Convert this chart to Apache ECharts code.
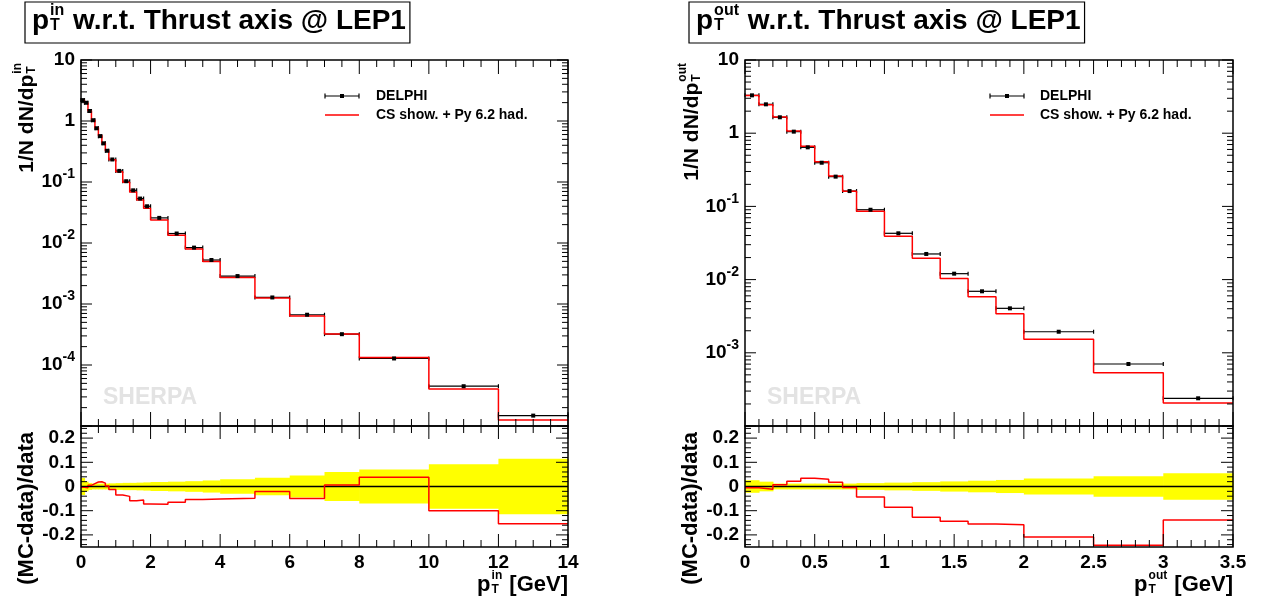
<!DOCTYPE html>
<html><head><meta charset="utf-8">
<script src="https://cdn.jsdelivr.net/npm/echarts@6/dist/echarts.min.js"></script>
<style>html,body{margin:0;padding:0;background:#fff}#c{width:1265px;height:602px}</style>
</head><body><div id="c"></div>
<script>
// ================= DATA =================
// p_T^in (left)
const inEdges = [0,0.1,0.2,0.3,0.4,0.5,0.6,0.7,0.8,1.0,1.2,1.4,1.6,1.8,2.0,2.5,3.0,3.5,4.0,5,6,7,8,10,12,14];
const inData  = [2.2,1.99,1.46,1.03,0.76,0.565,0.43,0.325,0.234,0.152,0.103,0.073,0.0535,0.040,0.0258,0.0143,0.0084,0.00526,0.00287,0.00128,6.67e-4,3.2e-4,1.28e-4,4.49e-5,1.48e-5];
const inMC    = [2.193,1.98,1.467,1.042,0.774,0.576,0.436,0.3257,0.2312,0.1467,0.0988,0.0687,0.0505,0.0371,0.0239,0.01337,0.00795,0.00499,0.00273,0.001253,6.34e-4,3.22e-4,1.329e-4,4.04e-5,1.252e-5];
const inRelErr= [0.035,0.02,0.014,0.012,0.012,0.012,0.012,0.012,0.013,0.014,0.015,0.015,0.016,0.017,0.0185,0.02,0.022,0.025,0.03,0.036,0.045,0.06,0.07,0.092,0.115];
// p_T^out (right)
const outEdges = [0,0.1,0.2,0.3,0.4,0.5,0.6,0.7,0.8,1.0,1.2,1.4,1.6,1.8,2.0,2.5,3.0,3.5];
const outData  = [3.29,2.48,1.65,1.05,0.641,0.395,0.255,0.162,0.090,0.0429,0.0224,0.01205,0.00692,0.00405,0.00194,7.03e-4,2.39e-4];
const outMC    = [3.274,2.453,1.662,1.073,0.663,0.407,0.2596,0.1614,0.0861,0.0392,0.01956,0.01032,0.00585,0.00341,0.001535,5.32e-4,2.06e-4];
const outRelErr= [0.026,0.02,0.012,0.012,0.012,0.012,0.012,0.012,0.014,0.016,0.018,0.021,0.024,0.027,0.033,0.042,0.055];
// tick labels
const inXTickLabels  = ['0','2','4','6','8','10','12','14'];
const outXTickLabels = ['0','0.5','1','1.5','2','2.5','3','3.5'];
const ratioTickLabels = ['-0.2','-0.1','0','0.1','0.2'];
// texts
const legendData = 'DELPHI';
const legendMC = 'CS show. + Py 6.2 had.';
const titleRest = ' w.r.t. Thrust axis @ LEP1';
const watermark = 'SHERPA';

// ================= HELPERS =================
const FF = "'Liberation Sans', Arial, Helvetica, sans-serif";
const mctx = document.createElement('canvas').getContext('2d');
function tw(t, s){ mctx.font = 'bold ' + s + 'px ' + FF; return mctx.measureText(t).width; }
function txt(x, y, t, s, fill, align){
  return {type:'text', x:x, y:y, silent:true, style:{text:t, fontSize:s, fontWeight:'bold', fontFamily:FF, fill:fill||'#000', align:align||'left', verticalAlign:'middle'}};
}
// composite text with stacked super/subscripts: segments [{t}, {sup, sub}]
function scriptText(segs, size, supOff, subOff, scale){
  let x = 0; const ch = []; const ss = Math.round(size*(scale||0.55));
  segs.forEach(s => {
    if (s.t !== undefined){ ch.push(txt(x, 0, s.t, size)); x += tw(s.t, size); }
    else {
      const w = Math.max(tw(s.sup, ss), tw(s.sub, ss));
      ch.push(txt(x+1, -size*supOff, s.sup, ss));
      ch.push(txt(x+1, size*subOff, s.sub, ss));
      x += w + 2;
    }
  });
  return {children: ch, width: x};
}
function steps(edges, vals){ const p=[]; vals.forEach((v,i)=>{ p.push([edges[i], v]); p.push([edges[i+1], v]); }); return p; }
function ratio(mc, d){ return mc.map((m,i)=> (m - d[i]) / d[i]); }
function linTicks(min, max, step, majStep){
  const out=[]; const n=Math.round((max-min)/step);
  for(let i=0;i<=n;i++){ const v=+(min+i*step).toFixed(6); const q=v/majStep; out.push([v, Math.abs(q-Math.round(q))<1e-6]); }
  return out;
}
function logTicks(lo, hi){
  const out=[]; for(let n=lo;n<hi;n++){ for(let k=1;k<=9;k++) out.push([k*Math.pow(10,n), k===1]); }
  out.push([Math.pow(10,hi), true]); return out;
}

const grids = [
  {left:81, top:60, width:487, height:366},
  {left:81, top:426, width:487, height:121},
  {left:745, top:60, width:488, height:366},
  {left:745, top:426, width:488, height:121}
];

const labelBase = {color:'#000', fontFamily:FF, fontWeight:'bold', fontSize:19};
function xAx(gi, max, interval, labels, show){
  return {type:'value', gridIndex:gi, min:0, max:max, interval:interval,
    axisLine:{show:false}, axisTick:{show:false}, splitLine:{show:false},
    axisLabel: Object.assign({show:show, margin:6, formatter: v => labels[Math.round(v/interval)] || ''}, labelBase)};
}
function logAx(gi, min, max){
  return {type:'log', logBase:10, gridIndex:gi, min:min, max:max,
    axisLine:{show:false}, axisTick:{show:false}, splitLine:{show:false}, minorTick:{show:false},
    axisLabel: Object.assign({margin:6, showMinLabel:false,
      formatter: v => { const e=Math.round(Math.log10(v)); if(e===1) return '10'; if(e===0) return '1'; if(Math.pow(10,e) < min*1.01) return ''; return '{m|10}{s|'+e+'}'; },
      rich:{ m:{fontSize:19, fontWeight:'bold', fontFamily:FF, color:'#000'},
             s:{fontSize:14, fontWeight:'bold', fontFamily:FF, color:'#000', padding:[0,0,15,0]} }
    }, labelBase)};
}
function ratAx(gi){
  return {type:'value', gridIndex:gi, min:-0.25, max:0.25,
    axisLine:{show:false}, axisTick:{show:false}, splitLine:{show:false},
    axisLabel: Object.assign({margin:6, showMinLabel:false, showMaxLabel:false,
      formatter: v => { const i=Math.round(v*10)+2; return (Math.abs(v*10-Math.round(v*10))<1e-6 && i>=0 && i<5) ? ratioTickLabels[i] : ''; }}, labelBase)};
}

function frameSeries(xi, xRef, yRef, xTicks, yTicks, lens){
  return {type:'custom', xAxisIndex:xi, yAxisIndex:xi, z:20, silent:true, clip:false, data:[[xRef, yRef]],
    renderItem: function(params, api){
      const cs = params.coordSys; const L=cs.x, T=cs.y, R=cs.x+cs.width, B=cs.y+cs.height;
      const st = {stroke:'#000', lineWidth:1};
      const ch = [{type:'rect', shape:{x:L, y:T, width:cs.width, height:cs.height}, style:{fill:'none', stroke:'#000', lineWidth:1.5}}];
      xTicks.forEach(t => { const x = api.coord([t[0], yRef])[0]; const l = t[1]?lens[0]:lens[1];
        ch.push({type:'line', shape:{x1:x, y1:B, x2:x, y2:B-l}, style:st});
        ch.push({type:'line', shape:{x1:x, y1:T, x2:x, y2:T+l}, style:st}); });
      yTicks.forEach(t => { const y = api.coord([xRef, t[0]])[1]; const l = t[1]?lens[2]:lens[3];
        ch.push({type:'line', shape:{x1:L, y1:y, x2:L+l, y2:y}, style:st});
        ch.push({type:'line', shape:{x1:R, y1:y, x2:R-l, y2:y}, style:st}); });
      return {type:'group', children:ch};
    }};
}
function mcLine(idx, pts){
  return {type:'line', xAxisIndex:idx, yAxisIndex:idx, data:pts, symbol:'none', showSymbol:false, z:5,
    lineStyle:{color:'#ff0000', width:1.5}, silent:true, clip:true};
}
function dataSeries(idx, edges, vals){
  return {type:'custom', xAxisIndex:idx, yAxisIndex:idx, z:4, silent:true, encode:{x:[0,1], y:2},
    data: vals.map((v,i)=>[edges[i], edges[i+1], v]),
    renderItem: function(params, api){
      const a = api.coord([api.value(0), api.value(2)]), b = api.coord([api.value(1), api.value(2)]);
      const st = {stroke:'#000', lineWidth:1.2};
      return {type:'group', children:[
        {type:'line', shape:{x1:a[0], y1:a[1], x2:b[0], y2:b[1]}, style:st},
        {type:'line', shape:{x1:a[0], y1:a[1]-2, x2:a[0], y2:a[1]+2}, style:st},
        {type:'line', shape:{x1:b[0], y1:b[1]-2, x2:b[0], y2:b[1]+2}, style:st}
      ]};
    }};
}
function markerSeries(idx, edges, vals){
  return {type:'custom', xAxisIndex:idx, yAxisIndex:idx, z:7, silent:true, encode:{x:[0,1], y:2},
    data: vals.map((v,i)=>[edges[i], edges[i+1], v]),
    renderItem: function(params, api){
      const c = api.coord([(api.value(0)+api.value(1))/2, api.value(2)]);
      return {type:'rect', shape:{x:c[0]-2, y:c[1]-2, width:4, height:4}, style:{fill:'#000'}};
    }};
}
function bandSeries(idx, edges, errs){
  return {type:'custom', xAxisIndex:idx, yAxisIndex:idx, z:1, silent:true, encode:{x:[0,1], y:2},
    data: errs.map((e,i)=>[edges[i], edges[i+1], e]),
    renderItem: function(params, api){
      const p1 = api.coord([api.value(0), api.value(2)]), p2 = api.coord([api.value(1), -api.value(2)]);
      return {type:'rect', shape:{x:p1[0], y:p1[1], width:p2[0]-p1[0]+0.6, height:p2[1]-p1[1]}, style:{fill:'#ffff00'}};
    }};
}
function zeroLine(idx, max){
  return {type:'line', xAxisIndex:idx, yAxisIndex:idx, data:[[0,0],[max,0]], symbol:'none', z:3, silent:true,
    lineStyle:{color:'#000', width:1.5}};
}

// ================= GRAPHICS (titles, legends, axis titles) =================
const graphics = [];
function addTitle(x0, sup){
  const st = scriptText([{t:'p'}, {sup:sup, sub:'T'}, {t:titleRest}], 28, 0.36, 0.17, 0.56);
  graphics.push({type:'rect', shape:{x:x0-7, y:2, width:st.width+11, height:41}, style:{fill:'#fff', stroke:'#000', lineWidth:1.2}, silent:true});
  graphics.push({type:'group', x:x0, y:21, children:st.children, silent:true});
}
addTitle(32, 'in');
addTitle(696, 'out');

function addVTitle(cx, yEnd, segs, size){
  const st = scriptText(segs, size, 0.42, 0.22, 0.55);
  graphics.push({type:'group', x:cx, y:yEnd + st.width, rotation:Math.PI/2, children:st.children, silent:true});
}
addVTitle(27, 62, [{t:'1/N dN/dp'}, {sup:'in', sub:'T'}], 21);
addVTitle(692, 62, [{t:'1/N dN/dp'}, {sup:'out', sub:'T'}], 21);
addVTitle(27, 432, [{t:'(MC-data)/data'}], 22);
addVTitle(691, 432, [{t:'(MC-data)/data'}], 22);

function addXTitle(xRight, sup){
  const st = scriptText([{t:'p'}, {sup:sup, sub:'T'}, {t:' [GeV]'}], 22, 0.42, 0.22, 0.55);
  graphics.push({type:'group', x:xRight - st.width, y:585, children:st.children, silent:true});
}
addXTitle(568, 'in');
addXTitle(1233, 'out');

function addLegend(x0, xText){
  const st = {stroke:'#000', lineWidth:1.2};
  graphics.push({type:'line', shape:{x1:x0, y1:96, x2:x0+34, y2:96}, style:st, silent:true});
  graphics.push({type:'line', shape:{x1:x0, y1:93.5, x2:x0, y2:98.5}, style:st, silent:true});
  graphics.push({type:'line', shape:{x1:x0+34, y1:93.5, x2:x0+34, y2:98.5}, style:st, silent:true});
  graphics.push({type:'rect', shape:{x:x0+15, y:94, width:4, height:4}, style:{fill:'#000'}, silent:true});
  graphics.push(txt(xText, 96, legendData, 14));
  graphics.push({type:'line', shape:{x1:x0, y1:115, x2:x0+34, y2:115}, style:{stroke:'#ff0000', lineWidth:1.5}, silent:true});
  graphics.push(txt(xText, 115, legendMC, 14));
}
addLegend(325, 376);
addLegend(990, 1040);
graphics.push(txt(103, 398, watermark, 23, '#e3e3e3'));
graphics.push(txt(767, 398, watermark, 23, '#e3e3e3'));

// ================= OPTION =================
const option = {
  animation:false,
  backgroundColor:'#fff',
  grid: grids.map(g => Object.assign({containLabel:false, show:false}, g)),
  xAxis: [ xAx(0,14,2,inXTickLabels,false), xAx(1,14,2,inXTickLabels,true),
           xAx(2,3.5,0.5,outXTickLabels,false), xAx(3,3.5,0.5,outXTickLabels,true) ],
  yAxis: [ logAx(0,1e-5,10), ratAx(1), logAx(2,1e-4,10), ratAx(3) ],
  series: [
    dataSeries(0, inEdges, inData), mcLine(0, steps(inEdges, inMC)), markerSeries(0, inEdges, inData),
    bandSeries(1, inEdges, inRelErr), zeroLine(1, 14), mcLine(1, steps(inEdges, ratio(inMC, inData))),
    dataSeries(2, outEdges, outData), mcLine(2, steps(outEdges, outMC)), markerSeries(2, outEdges, outData),
    bandSeries(3, outEdges, outRelErr), zeroLine(3, 3.5), mcLine(3, steps(outEdges, ratio(outMC, outData))),
    frameSeries(0, 0, 1e-5, linTicks(0,14,0.5,2), logTicks(-5,1), [14,7,11,6]),
    frameSeries(1, 0, 0, linTicks(0,14,0.5,2), linTicks(-0.24,0.24,0.02,0.1), [13,7,12,6]),
    frameSeries(2, 0, 1e-4, linTicks(0,3.5,0.1,0.5), logTicks(-4,1), [14,7,11,6]),
    frameSeries(3, 0, 0, linTicks(0,3.5,0.1,0.5), linTicks(-0.24,0.24,0.02,0.1), [13,7,12,6])
  ],
  graphic: graphics
};
const chart = echarts.init(document.getElementById('c'), null, {renderer:'canvas'});
chart.setOption(option);
</script>
</body></html>
